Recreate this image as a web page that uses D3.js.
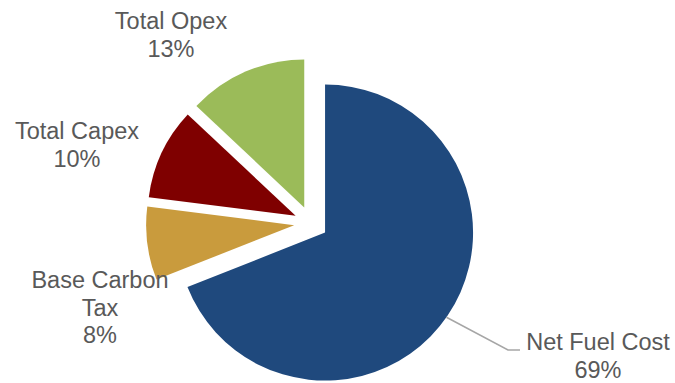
<!DOCTYPE html>
<html>
<head>
<meta charset="utf-8">
<script src="https://cdn.jsdelivr.net/npm/d3@7"></script>
<style>
  html, body { margin: 0; padding: 0; background: #ffffff; }
  svg { display: block; }
  text { font-family: "Liberation Sans", Arial, sans-serif; }
</style>
</head>
<body>
<svg id="chart" width="675" height="383"></svg>
<script>
// Cost breakdown shares (percent), drawn clockwise from 12 o'clock
const categories = ["Net Fuel Cost", "Base Carbon Tax", "Total Capex", "Total Opex"];
const shares = [69, 8, 10, 13];
const colors = ["#1F497D", "#C99B3D", "#7F0000", "#9BBB59"];

// Label text lines for each slice (category name split where it wraps)
const labelLines = [
  ["Net Fuel Cost", "69%"],
  ["Base Carbon", "Tax", "8%"],
  ["Total Capex", "10%"],
  ["Total Opex", "13%"]
];

// Layout
const W = 675, H = 383;
const cx = 311, cy = 223;      // pie centre
const radius = 148;
const explode = 17;            // every slice pulled out along its bisector
const fontSize = 23.5;
const lineH = 27.5;
// label block anchors: centre x and first-line baseline y
const labelPos = [
  [598, 350],
  [100, 288],
  [77, 139],
  [171, 29]
];

const svg = d3.select("#chart");

const pie = d3.pie().sort(null).value(d => d).startAngle(0).endAngle(2 * Math.PI);
const arcs = pie(shares);
const arcGen = d3.arc().innerRadius(0).outerRadius(radius);

const g = svg.append("g").attr("transform", `translate(${cx},${cy})`);

g.selectAll("path.slice")
  .data(arcs)
  .join("path")
  .attr("class", "slice")
  .attr("d", arcGen)
  .attr("fill", (d, i) => colors[i])
  .attr("transform", d => {
    const a = (d.startAngle + d.endAngle) / 2;
    return `translate(${explode * Math.sin(a)},${-explode * Math.cos(a)})`;
  });

// Leader line from the large slice to its label
{
  const d = arcs[0];
  const mid = (d.startAngle + d.endAngle) / 2;
  const ox = explode * Math.sin(mid), oy = -explode * Math.cos(mid);
  const a = 2.18;  // point on the rim where the leader starts
  const sx = cx + ox + radius * Math.sin(a);
  const sy = cy + oy - radius * Math.cos(a);
  const [lx, ly] = labelPos[0];
  svg.append("polyline")
    .attr("points", `${sx},${sy} ${lx - 90},${ly} ${lx - 78},${ly}`)
    .attr("fill", "none")
    .attr("stroke", "#A6A6A6")
    .attr("stroke-width", 1.5);
}

// Category labels
labelLines.forEach((lines, i) => {
  const [x, y] = labelPos[i];
  const t = svg.append("text")
    .attr("text-anchor", "middle")
    .attr("font-size", fontSize)
    .attr("fill", "#595959");
  lines.forEach((s, k) => {
    t.append("tspan").attr("x", x).attr("y", y + k * lineH).text(s);
  });
});
</script>
</body>
</html>
